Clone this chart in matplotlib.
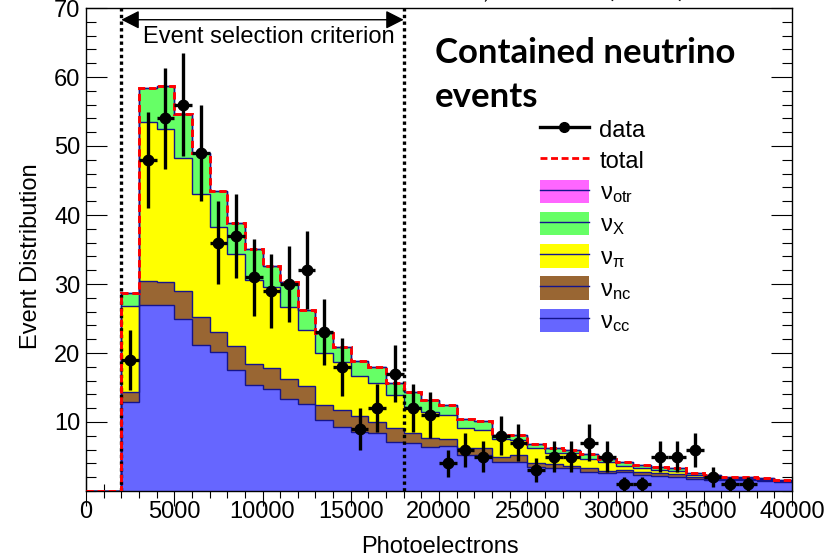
import numpy as np
import matplotlib
matplotlib.use("Agg")
import matplotlib.pyplot as plt
from matplotlib.lines import Line2D
from matplotlib.patches import Patch
from matplotlib.ticker import MultipleLocator, FixedLocator

plt.rcParams['font.family'] = ['Liberation Sans', 'DejaVu Sans']
plt.rcParams['mathtext.fontset'] = 'custom'
plt.rcParams['mathtext.rm'] = 'Liberation Sans'
plt.rcParams['mathtext.it'] = 'Liberation Sans'
plt.rcParams['mathtext.default'] = 'regular'

# ---------------- data ----------------
bin_edges = list(range(0, 40001, 1000))           # photoelectron bins
nu_cc = [0, 0, 12.9, 26.9, 26.9, 25.0, 21.2, 20.2, 17.5, 15.4, 14.8, 13.4, 12.6, 10.3, 9.3, 8.6,
         8.4, 7.1, 6.9, 6.4, 6.5, 5.2, 5.2, 4.2, 4.2, 3.5, 3.4, 3.3, 2.8, 2.6, 2.8, 2.3, 2.2, 2.1,
         1.7, 1.6, 1.6, 1.55, 1.5, 1.3]
nu_nc = [0, 0, 1.5, 3.6, 3.4, 4.0, 4.0, 2.9, 3.5, 3.0, 3.0, 2.9, 2.6, 2.2, 2.4, 2.3,
         1.6, 2.0, 1.5, 1.3, 1.1, 1.1, 1.1, 0.8, 1.0, 0.5, 0.5, 0.3, 0.5, 0.3, 0.2, 0.5, 0.4, 0.3,
         0.3, 0.2, 0.15, 0.15, 0.15, 0.15]
nu_pi = [0, 0, 12.4, 23.0, 22.1, 19.2, 17.9, 15.2, 13.4, 12.2, 11.7, 10.4, 8.1, 7.5, 7.0, 5.7,
         5.6, 4.8, 3.8, 3.8, 3.4, 2.9, 2.6, 2.5, 2.2, 2.2, 1.6, 1.9, 1.4, 1.3, 0.6, 0.6, 0.5, 0.5,
         0.3, 0.2, 0.15, 0.15, 0.15, 0.05]
nu_X = [0, 0, 1.9, 4.9, 6.3, 6.5, 5.9, 5.2, 4.4, 4.5, 3.1, 3.6, 2.9, 2.9, 2.2, 2.2,
        2.3, 1.8, 2.2, 1.7, 1.5, 1.2, 1.3, 0.6, 0.7, 0.6, 0.7, 0.5, 0.7, 0.5, 0.65, 0.4, 0.4, 0.4,
        0.3, 0.3, 0.2, 0.15, 0.15, 0.1]
nu_otr = [0] * 40
data_counts = [0, 0, 19, 48, 54, 56, 49, 36, 37, 31, 29, 30, 32, 23, 18, 9, 12, 17, 12, 11,
               4, 6, 5, 8, 7, 3, 5, 5, 7, 5, 1, 1, 5, 5, 6, 2, 1, 1, 0, 0]
selection_range = [2000, 18000]

labels = ['data', 'total', r'$\nu_{otr}$', r'$\nu_{X}$', r'$\nu_{\pi}$', r'$\nu_{nc}$', r'$\nu_{cc}$']

# ---------------- style ----------------
c_cc = '#6666ff'
c_nc = '#996633'
c_pi = '#ffff00'
c_X = '#66ff66'
c_otr = '#ff66ff'
c_edge = '#14148c'

fig = plt.figure(figsize=(8.39, 5.57), dpi=100)
fig.subplots_adjust(left=86/839, right=792/839, bottom=1-491/557, top=1-8/557)
ax = fig.add_subplot(111)

edges = np.array(bin_edges, dtype=float)
centers = 0.5 * (edges[:-1] + edges[1:])

layers = [(nu_cc, c_cc), (nu_nc, c_nc), (nu_pi, c_pi), (nu_X, c_X), (nu_otr, c_otr)]
cum = np.zeros(len(centers))
for vals, col in layers:
    top = cum + np.array(vals, dtype=float)
    ax.stairs(top, edges, baseline=cum, fill=True, color=col, lw=0, zorder=1)
    ax.stairs(top, edges, baseline=None, color=c_edge, lw=1.0, zorder=2)
    cum = top
total = cum
ax.stairs(total, edges, baseline=None, color='#ff0000', lw=2.1,
          linestyle=(0, (2.5, 1.3)), zorder=4)

# selection criterion
ax.vlines(selection_range, 0, 70, colors='k', lw=2.4, linestyles=(0, (1, 1)), zorder=3)
ax.annotate('', xy=(selection_range[0], 68.3), xytext=(selection_range[1], 68.3),
            arrowprops=dict(arrowstyle='<|-|>,head_length=0.55,head_width=0.28',
                            mutation_scale=20, color='k', lw=1.0,
                            shrinkA=0, shrinkB=0), zorder=6)
ax.text(10370, 65.0, 'Event selection criterion',
        ha='center', va='baseline', fontsize=17, zorder=6)

# data points
dc = np.array(data_counts, dtype=float)
m = dc > 0
ax.errorbar(centers[m], dc[m], yerr=np.sqrt(dc[m]), xerr=500, fmt='o', color='k',
            ms=7.5, elinewidth=2.4, capsize=0, zorder=5)

# axes
ax.set_xlim(0, 40000)
ax.set_ylim(0, 70)
ax.xaxis.set_major_locator(MultipleLocator(5000))
ax.xaxis.set_minor_locator(MultipleLocator(1000))
ax.yaxis.set_major_locator(FixedLocator([10, 20, 30, 40, 50, 60, 70]))
ax.yaxis.set_minor_locator(MultipleLocator(2))
ax.set_axisbelow(True)
ax.tick_params(axis='y', which='both', direction='in', left=True, right=True,
               labelsize=17, pad=4, width=0.8)
ax.tick_params(axis='y', which='major', length=15)
ax.tick_params(axis='y', which='minor', length=7.5)
ax.tick_params(axis='x', which='both', direction='inout', bottom=True, top=False,
               labelsize=17, pad=-3, width=0.8)
ax.tick_params(axis='x', which='major', length=21)
ax.tick_params(axis='x', which='minor', length=10)
for s in ax.spines.values():
    s.set_linewidth(1.0)

ax.set_xlabel('Photoelectrons', fontsize=17)
ax.xaxis.set_label_coords((440-86)/706, -(547-491)/483)
ax.xaxis.label.set_va('center')
ax.set_ylabel('Event Distribution', fontsize=17)
ax.yaxis.label.set_va('center')
ax.yaxis.set_label_coords((31-86)/706, (491-256)/483)

# legend
handles = [Line2D([], [], color='k', lw=2.4, marker='o', ms=7),
           Line2D([], [], color='#ff0000', lw=2.0, linestyle=(0, (2.5, 1.3)))]
for col in [c_otr, c_X, c_pi, c_nc, c_cc]:
    handles.append((Patch(facecolor=col, edgecolor='none'),
                    Line2D([], [], color=c_edge, lw=1.0)))
ax.legend(handles, labels, loc='upper left', bbox_to_anchor=(540/839, 1-117/557),
          bbox_transform=fig.transFigure, frameon=False, borderpad=0, borderaxespad=0,
          handlelength=2.07, handleheight=1.15, handletextpad=0.45, labelspacing=0.28,
          fontsize=17)

# slide annotations
fig.text(435/839, 1-63/557, 'Contained neutrino', family='Lato', fontweight='bold',
         fontsize=25, ha='left', va='baseline')
fig.text(435/839, 1-107/557, 'events', family='Lato', fontweight='bold',
         fontsize=25, ha='left', va='baseline')
fig.text(490/839, 1+3/557, 'MiniBooNE,', family='Lato', fontsize=20, ha='right', va='baseline')
fig.text(607/839, 1+3/557, '(2018)', family='Lato', fontsize=20, ha='left', va='baseline')

fig.savefig('out.png', dpi=100)
